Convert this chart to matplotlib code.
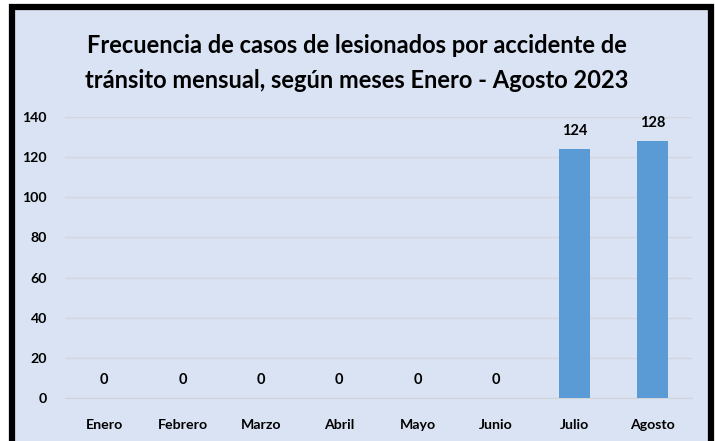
import matplotlib.pyplot as plt
from matplotlib.patches import Rectangle

meses = ['Enero', 'Febrero', 'Marzo', 'Abril', 'Mayo', 'Junio', 'Julio', 'Agosto']
casos = [0, 0, 0, 0, 0, 0, 124, 128]
yticks = [0, 20, 40, 60, 80, 100, 120, 140]

titulo = ('Frecuencia de casos de lesionados por accidente de\n'
          'tránsito mensual, según meses Enero - Agosto 2023')

plt.rcParams['font.family'] = ['Lato', 'DejaVu Sans']
plt.rcParams['font.weight'] = 'bold'

W, H = 715, 441
fig = plt.figure(figsize=(W / 100, H / 100), dpi=100, facecolor='white')

# marco negro con fondo azul claro
fondo = Rectangle((12 / W, -20 / H), 699 / W, (H - 7 + 20) / H,
                  transform=fig.transFigure, facecolor='#dae3f3',
                  edgecolor='black', linewidth=4.5, zorder=-5)
fig.patches.append(fondo)

ax = fig.add_axes([65 / W, 43 / H, 627 / W, 281 / H])
ax.set_facecolor('none')
ax.set_zorder(2)

x = range(len(meses))
bars = ax.bar(x, casos, width=0.4, color='#5b9bd5', zorder=3)

for b, v in zip(bars, casos):
    ax.annotate(str(v), (b.get_x() + b.get_width() / 2, v),
                xytext=(0, 8), textcoords='offset points',
                ha='center', va='bottom', fontsize=10.5, fontweight='bold',
                color='black')

ax.set_ylim(0, 140)
ax.set_xlim(-0.5, len(meses) - 0.5)
ax.set_yticks(yticks)
ax.set_xticks(list(x))
ax.set_xticklabels(meses)
ax.grid(axis='y', color='#d3d6dc', linewidth=1, zorder=0)
ax.tick_params(axis='both', length=0, labelsize=10.2)
ax.tick_params(axis='x', pad=15)
ax.tick_params(axis='y', pad=13)
for s in ['top', 'right', 'left']:
    ax.spines[s].set_visible(False)
ax.spines['bottom'].set_color('#d0d3d8')

fig.text(357 / W, 1 - 63 / H, titulo, ha='center', va='center',
         fontsize=17, fontweight='bold', linespacing=1.6)

fig.savefig('out.png', dpi=100, facecolor=fig.get_facecolor())
